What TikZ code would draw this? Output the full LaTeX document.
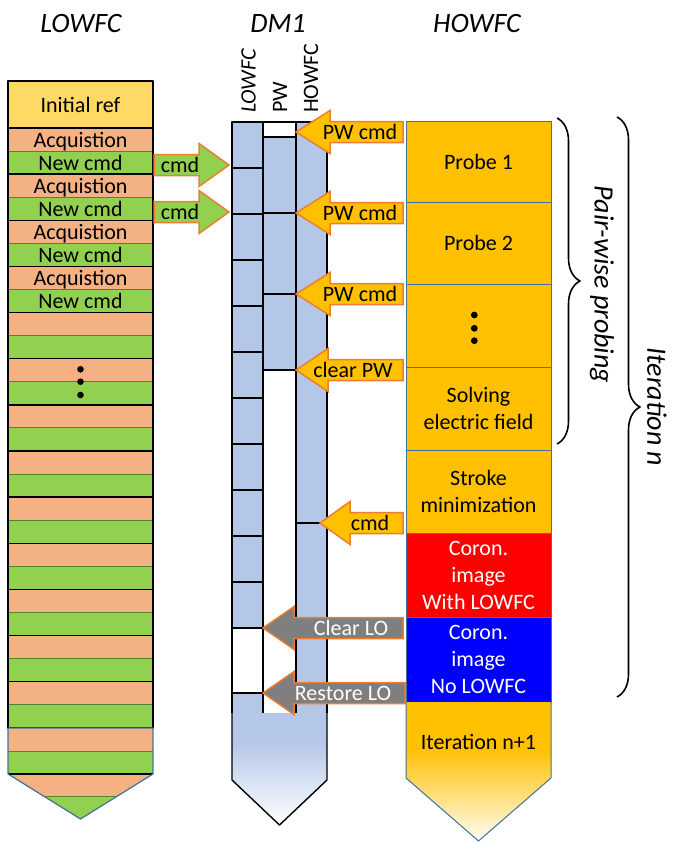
\documentclass[tikz,border=0pt]{standalone}
\usepackage{fontspec}
\setmainfont{Carlito}
\usetikzlibrary{decorations.pathreplacing}
\definecolor{acqorange}{HTML}{F4B183}
\definecolor{cmdgreen}{HTML}{92D050}
\definecolor{refgold}{HTML}{FFD966}
\definecolor{dmblue}{HTML}{B4C7E7}
\definecolor{hogold}{HTML}{FFC000}
\definecolor{arrowline}{HTML}{ED7D31}
\definecolor{cellline}{HTML}{41719C}
\definecolor{rowline}{HTML}{548235}
\definecolor{logray}{HTML}{7F7F7F}
\begin{document}
\begin{tikzpicture}[x=1pt, y=-1pt, line join=round, font=\fontsize{22}{27}\selectfont]
	\tikzset{headlabel/.style={font=\fontsize{28}{30}\selectfont\itshape},
		collabel/.style={rotate=90, anchor=west, inner sep=0pt},
		dmcell/.style={draw=black, line width=1.4pt, fill=dmblue},
		howcell/.style={draw=cellline, line width=1pt, fill=hogold, minimum width=145pt, align=center, inner sep=0pt, outer sep=0pt},
		blockarrow/.style={draw=arrowline, line width=1.5pt, line join=miter},
		bracestyle/.style={decorate, decoration={brace, amplitude=23pt}, line width=1.6pt}}
	\useasboundingbox (0,0) rectangle (673,843);
	% titles
	\node[headlabel, anchor=base] (tlo) at (81,33) {LOWFC};
	\node[headlabel, anchor=base] (tdm) at (278,33) {DM1};
	\node[headlabel, anchor=base] (tho) at (477,33) {HOWFC};
	% LOWFC loop
	\node[draw=black, line width=1.4pt, fill=refgold, minimum width=145pt, minimum height=47pt, inner sep=0pt] (initref) at (80.5,104.5) {};
	\node[anchor=base] (initlbl) at (80.5,112) {Initial ref};
	\foreach \k in {0,...,12}{
		\pgfmathsetmacro{\ya}{128+46.143*\k}
		\pgfmathsetmacro{\yb}{\ya+23.07}
		\pgfmathsetmacro{\yc}{\ya+46.143}
		\fill[acqorange] (8,\ya) rectangle (153,\yb);
		\fill[cmdgreen] (8,\yb) rectangle (153,\yc);
		\draw[rowline, line width=1pt] (8,\yb) -- (153,\yb);
		\draw[line width=1.4pt] (8,\ya) rectangle (153,\yc);
	}
	\fill[acqorange] (8,727.9) rectangle (153,751);
	\fill[cmdgreen] (8,751) rectangle (153,774);
	\draw[rowline, line width=1pt] (8,751) -- (153,751);
	\fill[acqorange] (8,774) -- (153,774) -- (80.5,819) -- cycle;
	\fill[cmdgreen] (43.9,796) -- (117.1,796) -- (80.5,819) -- cycle;
	\draw[rowline, line width=1pt] (43.9,796) -- (117.1,796);
	\draw[line width=1.4pt] (8,774) -- (153,774);
	\draw[cellline, line width=1.2pt] (8,727.9) -- (8,774) -- (80.5,819) -- (153,774) -- (153,727.9) -- cycle;
	\foreach \k in {0,...,3}{
		\node[anchor=base] (acq\k) at (80.5,{147+46.143*\k}) {Acquistion};
		\node[anchor=base] (newcmd\k) at (80.5,{170+46.143*\k}) {New cmd};
	}
	\foreach \d in {369.3,381.7,395}
		\fill (80.5,\d) circle (3.3pt);
	% DM1 columns
	\foreach \n in {0,...,10}
		\filldraw[dmcell] (232,{122+46*\n}) rectangle (263,{168+46*\n});
	\filldraw[line width=1.4pt, fill=white] (232,628) rectangle (263,693);
	\fill[dmblue] (232,693) rectangle (263,713);
	\draw[line width=1.4pt] (232,713) -- (232,693) -- (263,693) -- (263,713);
	\filldraw[line width=1.4pt, fill=white] (263,122) rectangle (296,137);
	\filldraw[dmcell] (263,137) rectangle (296,213);
	\filldraw[dmcell] (263,213) rectangle (296,294);
	\filldraw[dmcell] (263,294) rectangle (296,370);
	\draw[line width=1.4pt] (263,713) -- (263,370) -- (296,370) -- (296,713);
	\filldraw[dmcell] (296,122) rectangle (327,523);
	\fill[dmblue] (296,523) rectangle (327,713);
	\draw[line width=1.4pt] (296,713) -- (296,523) -- (327,523) -- (327,713);
	\fill[dmblue] (232,713) rectangle (327,742);
	\shade[top color=dmblue, bottom color=white] (232,741) -- (232,780) -- (279.5,825) -- (327,780) -- (327,741) -- cycle;
	\draw[line width=1.4pt] (232,713) -- (232,780) -- (279.5,825) -- (327,780) -- (327,713);
	\node[collabel, font=\fontsize{22}{24}\selectfont\itshape] (clo) at (248.5,113) {LOWFC};
	\node[collabel] (cpw) at (280,113) {PW};
	\node[collabel] (cho) at (311,113) {HOWFC};
	% HOWFC steps
	\node[howcell, minimum height=81pt] (probeA) at (478.5,161.5) {Probe 1};
	\node[howcell, minimum height=82pt] (probeB) at (478.5,243) {Probe 2};
	\node[howcell, minimum height=83pt] (probeN) at (478.5,325.5) {};
	\node[howcell, minimum height=83pt] (solve) at (478.5,408.5) {Solving\\electric field};
	\node[howcell, minimum height=83pt] (stroke) at (478.5,491.5) {Stroke\\minimization};
	\node[howcell, minimum height=84pt, fill=red, text=white] (coronA) at (478.5,575) {Coron.\\image\\With LOWFC};
	\node[howcell, minimum height=85pt, fill=blue, text=white] (coronB) at (478.5,659.5) {Coron.\\image\\No LOWFC};
	\foreach \d in {315,328.3,340.7}
		\fill (474.3,\d) circle (3.4pt);
	\fill[hogold] (406,702) rectangle (551,749);
	\shade[top color=hogold, bottom color=hogold!4] (406,748) -- (406,778) -- (478.5,841) -- (551,778) -- (551,748) -- cycle;
	\draw[cellline, line width=1pt] (406,702) -- (406,778) -- (478.5,841) -- (551,778) -- (551,702);
	\node (nextit) at (478.5,742) {Iteration n+1};
	% commands
	\foreach \tip/\yy/\base/\rx/\tx/\col/\tcol/\txt in {296/132/330/403/360/hogold/black/PW cmd,296/213/330/403/360/hogold/black/PW cmd,296/294/330/403/360/hogold/black/PW cmd,296/370/328/403/353/hogold/black/clear PW,320/523/350/403/370/hogold/black/cmd,263/628/294/403/351/logray/white/Clear LO,263/693/294/405/343/logray/white/Restore LO,229/165/199/154/180/cmdgreen/black/cmd,229/212/199/154/180/cmdgreen/black/cmd}{
		\filldraw[blockarrow, fill=\col] (\tip,\yy) -- (\base,\yy-21.5) -- (\base,\yy-10.5) -- (\rx,\yy-10.5) -- (\rx,\yy+10.5) -- (\base,\yy+10.5) -- (\base,\yy+21.5) -- cycle;
		\node[text=\tcol, inner sep=0pt] (arrlbl\yy) at (\tx,\yy) {\txt};
	}
	% braces
	\draw[bracestyle] (557,118) -- (557,444);
	\draw[bracestyle] (617,117) -- (617,697);
	\node[headlabel, rotate=-90] (pwprob) at (602,284.5) {Pair-wise probing};
	\node[headlabel, rotate=-90] (itern) at (657,407) {Iteration n};
\end{tikzpicture}
\end{document}
